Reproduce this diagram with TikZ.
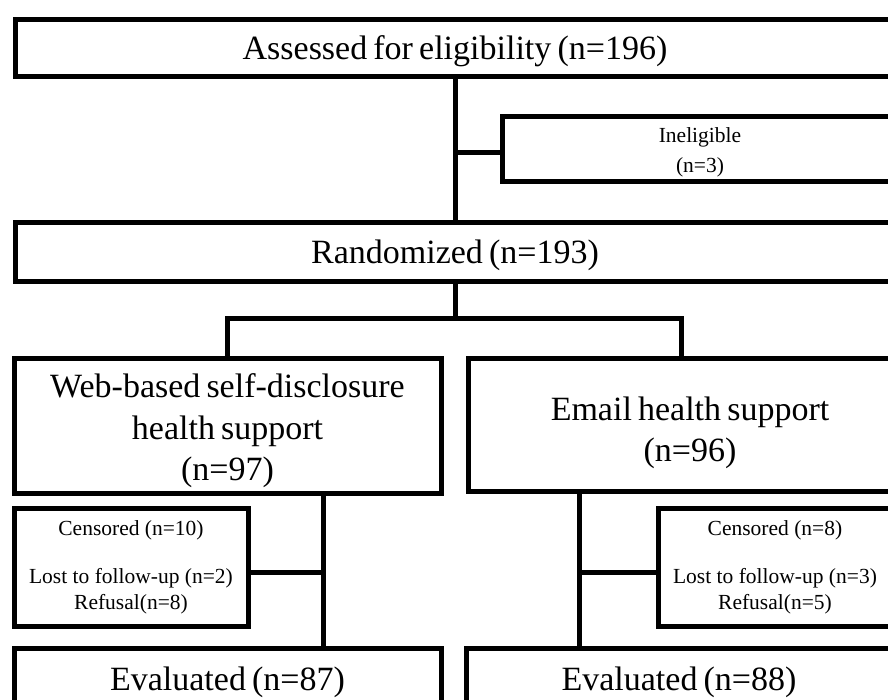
\documentclass[tikz,border=0pt]{standalone}
\usepackage{fontspec}
\setmainfont{Liberation Serif}
\newfontfamily\bigserif[WordSpace=0.72]{Liberation Serif}
\newcommand{\upstrut}[1]{\rule{0pt}{#1}}
\begin{document}
\begin{tikzpicture}[x=1pt,y=-1pt,
  box/.style={draw, line width=5pt, rectangle, inner sep=0pt, align=center},
  big/.style={font=\bigserif\fontsize{34}{41.5}\selectfont},
  small/.style={font=\fontsize{21.5}{26}\selectfont},
  conn/.style={line width=5pt}]
\useasboundingbox (0,0) rectangle (888,699);
\clip (0,0) rectangle (888,699);
\fill[white] (0,0) rectangle (888,699);

\node[box,big,minimum width=880pt,minimum height=57pt] (assess) at (455,47.5) {\upstrut{31pt}Assessed for eligibility (n=196)};
\node[box,font=\fontsize{21.5}{30}\selectfont,minimum width=396pt,minimum height=65pt] (inel) at (700,148.5) {\upstrut{22pt}Ineligible\\(n=3)};
\node[box,big,minimum width=880pt,minimum height=59pt] (rand) at (455,251.5) {\upstrut{31pt}Randomized (n=193)};
\node[box,big,minimum width=427pt,minimum height=135pt] (web) at (227.5,425.5) {\upstrut{35pt}Web-based self-disclosure\\health support\\(n=97)};
\node[box,big,minimum width=444pt,minimum height=133pt] (email) at (690,424.5) {\upstrut{40pt}Email health support\\(n=96)};
\node[box,small,minimum width=234pt,minimum height=118pt] (cl) at (131,567) {Censored (n=10)\\[22pt]Lost to follow-up (n=2)\\Refusal(n=8)};
\node[box,small,minimum width=234pt,minimum height=118pt] (cr) at (775,567) {Censored (n=8)\\[22pt]Lost to follow-up (n=3)\\Refusal(n=5)};
\node[box,big,minimum width=427pt,minimum height=64pt] (evl) at (227.5,680) {\upstrut{28pt}Evaluated (n=87)};
\node[box,big,minimum width=426pt,minimum height=64pt] (evr) at (679,680) {\upstrut{28pt}Evaluated (n=88)};

\coordinate (ij) at (455,152);
\coordinate (split) at (455,318);
\coordinate (er) at (681,358);
\coordinate (wb) at (323,493);
\coordinate (eb) at (579,491);
\coordinate (lj) at (323,572);
\coordinate (rj) at (579,572);

\draw[conn] (assess.south) -- (rand.north);
\draw[conn] (ij) -- (ij -| inel.west);
\draw[conn] (rand.south) -- (split);
\draw[conn] (web.north) |- (split) -| (er);
\draw[conn] (wb) -- (wb |- evl.north);
\draw[conn] (lj -| cl.east) -- (lj);
\draw[conn] (eb) -- (eb |- evr.north);
\draw[conn] (rj) -- (rj -| cr.west);
\end{tikzpicture}
\end{document}
